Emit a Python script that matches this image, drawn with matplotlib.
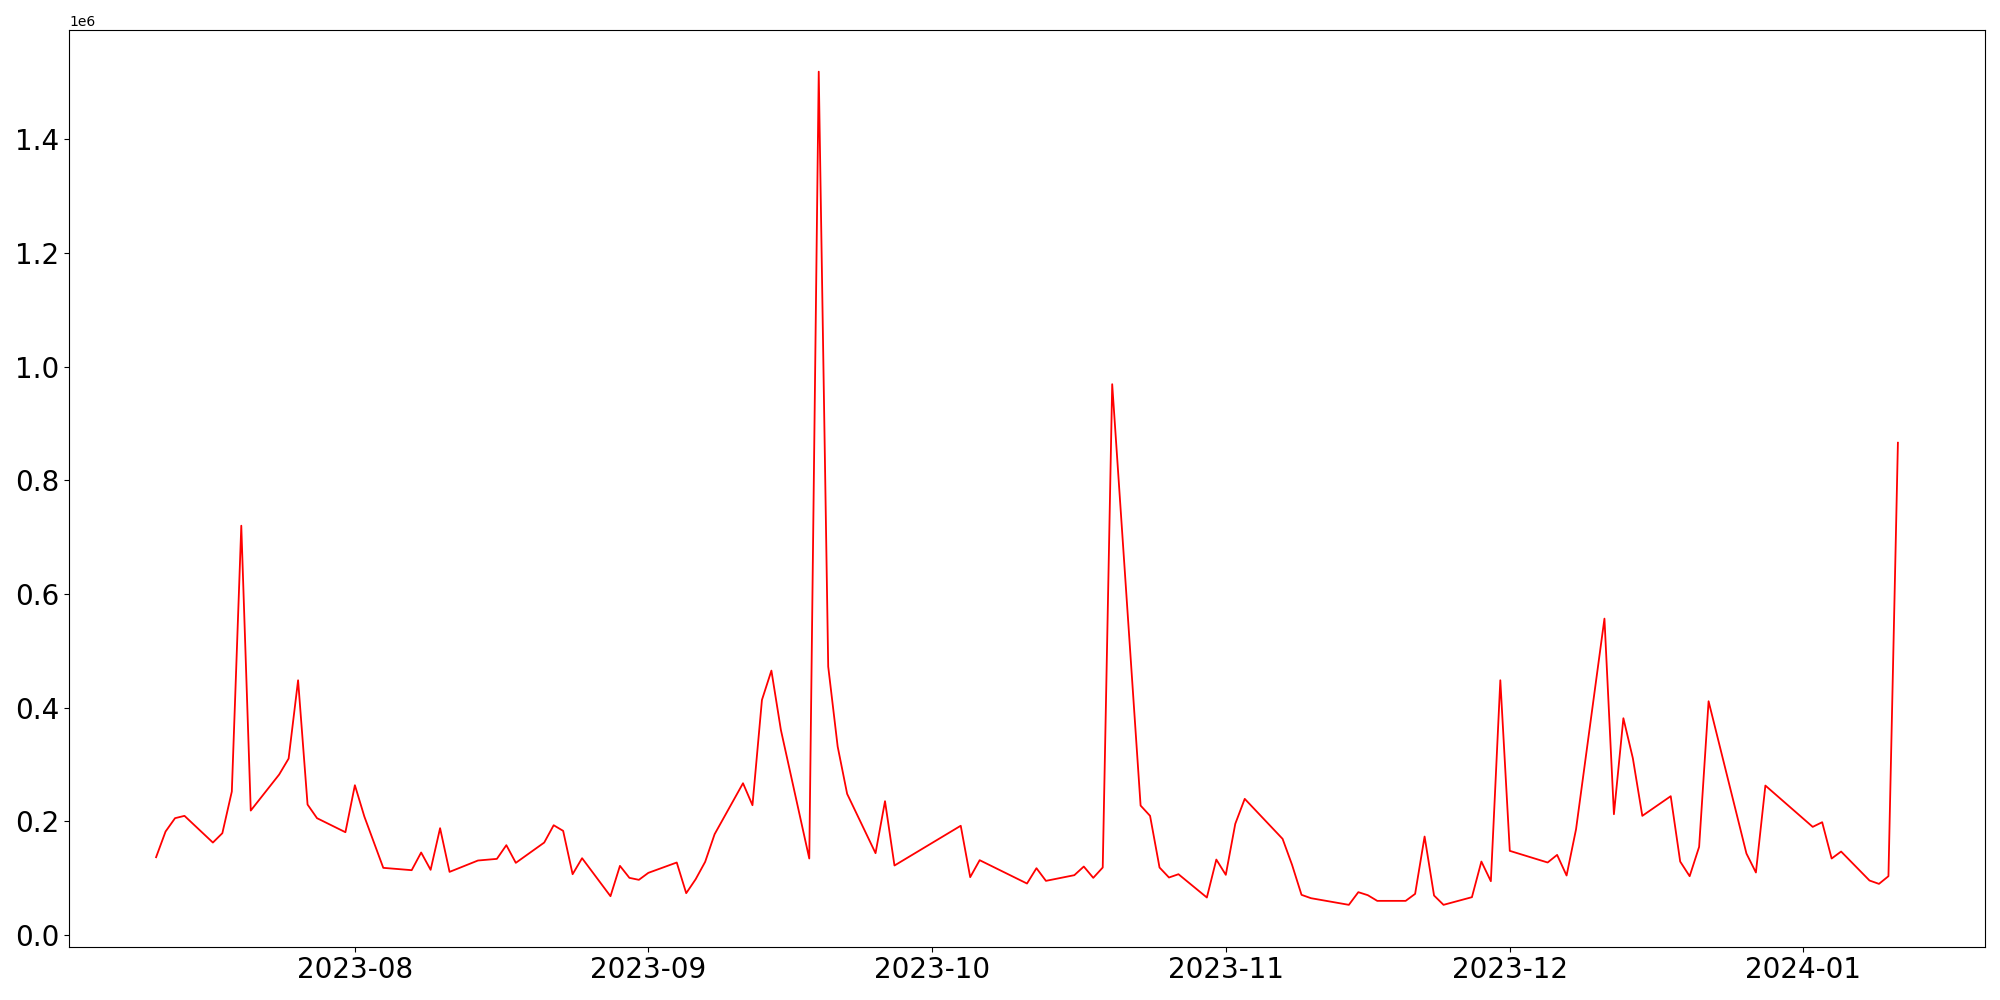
import matplotlib
matplotlib.use("Agg")
import matplotlib.pyplot as plt
import pandas as pd

dates = [
    "2023-07-11", "2023-07-12", "2023-07-13", "2023-07-14",
    "2023-07-17", "2023-07-18", "2023-07-19", "2023-07-20", "2023-07-21",
    "2023-07-24", "2023-07-25", "2023-07-26", "2023-07-27", "2023-07-28",
    "2023-07-31", "2023-08-01", "2023-08-02", "2023-08-04",
    "2023-08-07", "2023-08-08", "2023-08-09", "2023-08-10", "2023-08-11",
    "2023-08-14", "2023-08-16", "2023-08-17", "2023-08-18",
    "2023-08-21", "2023-08-22", "2023-08-23", "2023-08-24", "2023-08-25",
    "2023-08-28", "2023-08-29", "2023-08-30", "2023-08-31", "2023-09-01",
    "2023-09-04", "2023-09-05", "2023-09-06", "2023-09-07", "2023-09-08",
    "2023-09-11", "2023-09-12", "2023-09-13", "2023-09-14", "2023-09-15",
    "2023-09-18", "2023-09-19", "2023-09-20", "2023-09-21", "2023-09-22",
    "2023-09-25", "2023-09-26", "2023-09-27",
    "2023-10-04", "2023-10-05", "2023-10-06",
    "2023-10-11", "2023-10-12", "2023-10-13",
    "2023-10-16", "2023-10-17", "2023-10-18", "2023-10-19", "2023-10-20",
    "2023-10-23", "2023-10-24", "2023-10-25", "2023-10-26", "2023-10-27",
    "2023-10-30", "2023-10-31", "2023-11-01", "2023-11-02", "2023-11-03",
    "2023-11-07", "2023-11-08", "2023-11-09", "2023-11-10",
    "2023-11-14", "2023-11-15", "2023-11-16", "2023-11-17",
    "2023-11-20", "2023-11-21", "2023-11-22", "2023-11-23", "2023-11-24",
    "2023-11-27", "2023-11-28", "2023-11-29", "2023-11-30", "2023-12-01",
    "2023-12-05", "2023-12-06", "2023-12-07", "2023-12-08",
    "2023-12-11", "2023-12-12", "2023-12-13", "2023-12-14", "2023-12-15",
    "2023-12-18", "2023-12-19", "2023-12-20", "2023-12-21", "2023-12-22",
    "2023-12-26", "2023-12-27", "2023-12-28",
    "2024-01-02", "2024-01-03", "2024-01-04", "2024-01-05",
    "2024-01-08", "2024-01-09", "2024-01-10", "2024-01-11",
]

values = [
    136600, 181800, 205300, 209400,
    162400, 178900, 252200, 720000, 218700,
    282100, 310200, 448000, 229300, 205300,
    180600, 263300, 208200, 117900,
    113800, 144900, 114400, 187700, 110800,
    130800, 133700, 157800, 126700,
    162400, 192900, 183000, 106700, 134900,
    68000, 121400, 100300, 96800, 109100,
    127300, 73300, 97900, 128400, 177100,
    266800, 228100, 413400, 465000, 360700,
    134300, 1519000, 472100, 331300, 248100,
    143700, 235200, 122000,
    192000, 101500, 131400,
    90300, 117300, 95000,
    105000, 120200, 100300, 118500, 969000,
    227500, 209400, 118500, 100900, 106700,
    65700, 132500, 105600, 195300, 239300,
    168900, 123200, 70400, 64500,
    52800, 75100, 69800, 59800,
    59800, 72100, 173000, 69200, 52800,
    66300, 129000, 94400, 448000, 147800,
    127300, 140700, 104400, 185900,
    556500, 212300, 381200, 310800, 209400,
    244000, 129000, 103200, 154800, 411100,
    143100, 109700, 262700,
    190000, 198200, 134300, 146600,
    95600, 89700, 103200, 866000,
]

x = pd.to_datetime(dates)

fig = plt.figure(figsize=(20, 10), dpi=100)
ax = fig.add_axes([0.0345, 0.0535, 0.958, 0.9165])
ax.plot(x, values, color="red", linewidth=1.3)
ax.tick_params(axis="both", labelsize=20)
fig.savefig("out.png", dpi=100)
